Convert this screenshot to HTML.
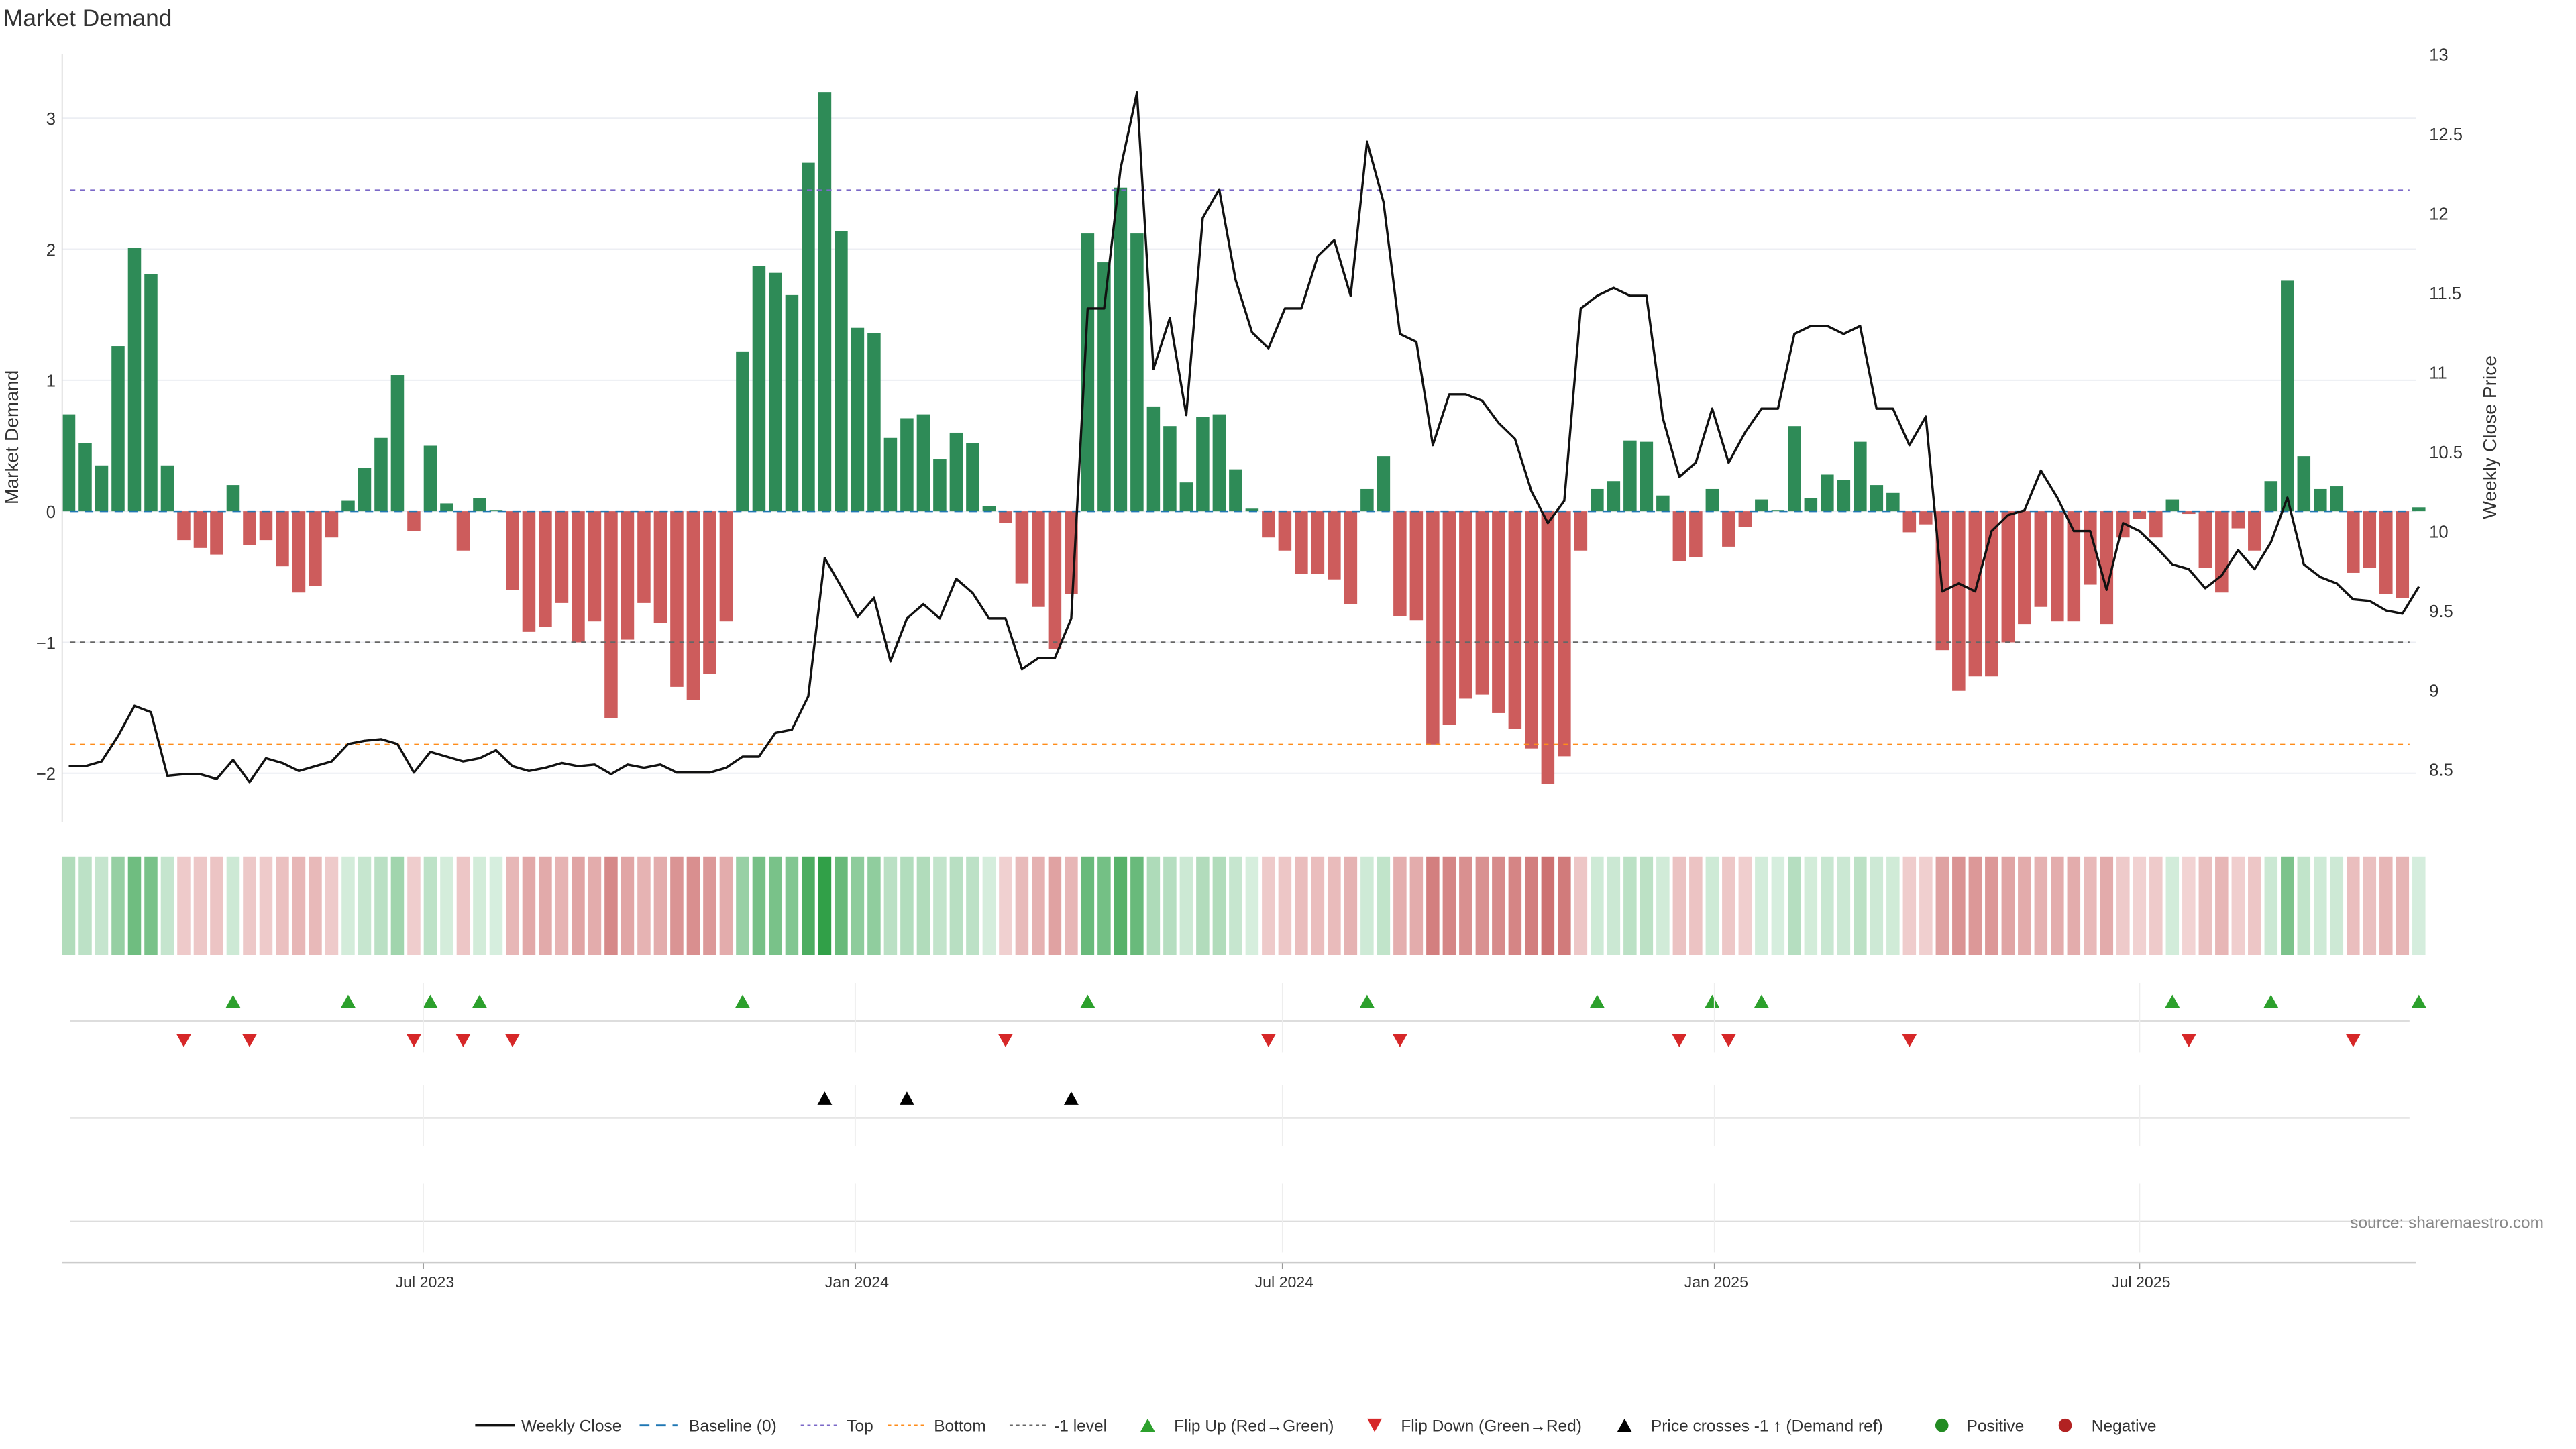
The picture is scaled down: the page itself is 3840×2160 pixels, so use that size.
<!DOCTYPE html>
<html><head><meta charset="utf-8">
<style>
html,body{margin:0;padding:0;background:#fff;}
svg{display:block;font-family:"Liberation Sans","DejaVu Sans",sans-serif;}
</style></head>
<body>
<svg id="chart" width="3840" height="2160" viewBox="0 0 1573.7 881.4" preserveAspectRatio="none" xmlns="http://www.w3.org/2000/svg">
<rect x="0" y="0" width="1573.7" height="881.4" fill="#fff"/>
<text x="2" y="16" font-size="14.5" fill="#333">Market Demand</text>
<g id="grid"></g>
<g id="bars"></g>
<g id="refs"></g>
<g id="line"></g>
<g id="axes"></g>
<g id="heat"></g>
<g id="flips"></g>
<g id="cross"></g>
<g id="lower"></g>
<text transform="translate(11,266) rotate(-90)" text-anchor="middle" font-size="11.5" fill="#333">Market Demand</text>
<text transform="translate(1525,266) rotate(-90)" text-anchor="middle" font-size="11.5" fill="#333">Weekly Close Price</text>
<text x="1554" y="747" text-anchor="end" font-size="10" fill="#888">source: sharemaestro.com</text>
<g id="legend" transform="translate(0,0) scale(1.0045,1)"></g>
</svg>
<script>
const demand = [0.74,0.52,0.35,1.26,2.01,1.81,0.35,-0.22,-0.28,-0.33,0.2,-0.26,-0.22,-0.42,-0.62,-0.57,-0.2,0.08,0.33,0.56,1.04,-0.15,0.5,0.06,-0.3,0.1,0.01,-0.6,-0.92,-0.88,-0.7,-1.0,-0.84,-1.58,-0.98,-0.7,-0.85,-1.34,-1.44,-1.24,-0.84,1.22,1.87,1.82,1.65,2.66,3.2,2.14,1.4,1.36,0.56,0.71,0.74,0.4,0.6,0.52,0.04,-0.09,-0.55,-0.73,-1.05,-0.63,2.12,1.9,2.47,2.12,0.8,0.65,0.22,0.72,0.74,0.32,0.02,-0.2,-0.3,-0.48,-0.48,-0.52,-0.71,0.17,0.42,-0.8,-0.83,-1.78,-1.63,-1.43,-1.4,-1.54,-1.66,-1.81,-2.08,-1.87,-0.3,0.17,0.23,0.54,0.53,0.12,-0.38,-0.35,0.17,-0.27,-0.12,0.09,0.01,0.65,0.1,0.28,0.24,0.53,0.2,0.14,-0.16,-0.1,-1.06,-1.37,-1.26,-1.26,-1.0,-0.86,-0.73,-0.84,-0.84,-0.56,-0.86,-0.2,-0.06,-0.2,0.09,-0.02,-0.43,-0.62,-0.13,-0.3,0.23,1.76,0.42,0.17,0.19,-0.47,-0.43,-0.63,-0.66,0.03];
const price = [8.52,8.52,8.55,8.71,8.90,8.86,8.46,8.47,8.47,8.44,8.56,8.42,8.57,8.54,8.49,8.52,8.55,8.66,8.68,8.69,8.66,8.48,8.61,8.58,8.55,8.57,8.62,8.52,8.49,8.51,8.54,8.52,8.53,8.47,8.53,8.51,8.53,8.48,8.48,8.48,8.51,8.58,8.58,8.73,8.75,8.96,9.83,9.65,9.46,9.58,9.18,9.45,9.54,9.45,9.70,9.61,9.45,9.45,9.13,9.20,9.20,9.45,11.40,11.40,12.28,12.76,11.02,11.34,10.73,11.97,12.15,11.58,11.25,11.15,11.40,11.40,11.73,11.83,11.48,12.45,12.07,11.24,11.19,10.54,10.86,10.86,10.82,10.68,10.58,10.25,10.05,10.19,11.40,11.48,11.53,11.48,11.48,10.71,10.34,10.43,10.77,10.43,10.62,10.77,10.77,11.24,11.29,11.29,11.24,11.29,10.77,10.77,10.54,10.72,9.62,9.67,9.62,10.00,10.10,10.13,10.38,10.21,10.00,10.00,9.63,10.05,10.00,9.90,9.79,9.76,9.64,9.72,9.88,9.76,9.93,10.21,9.79,9.71,9.67,9.57,9.56,9.50,9.48,9.65];
const demandTicks = [-2,-1,0,1,2,3];
const priceTicks = [8.5,9,9.5,10,10.5,11,11.5,12,12.5,13];
const refTop = 2.45, refBottom = -1.78, refMinus1 = -1;
const startDate = new Date(2023,0,31);
const dateTicks = [[new Date(2023,6,1),"Jul 2023"],[new Date(2024,0,1),"Jan 2024"],[new Date(2024,6,1),"Jul 2024"],[new Date(2025,0,1),"Jan 2025"],[new Date(2025,6,1),"Jul 2025"]];

const NS="http://www.w3.org/2000/svg";
function mk(parent,tag,attrs){const e=document.createElementNS(NS,tag);for(const k in attrs)e.setAttribute(k,attrs[k]);document.getElementById(parent).appendChild(e);return e;}
const X0=42, STEP=10.04, L=38, R=1476;
const xi = i => X0 + STEP*i;
const xd = d => X0 + (d - startDate)/(7*864e5)*STEP;
const yD = v => 311 - 79.7*v;
const yP = p => 33 + (13-p)*96.67;

demandTicks.forEach(t=>{
  const g=mk('grid','line',{x1:L,x2:R,y1:yD(t),y2:yD(t),stroke:'#eceef3','stroke-width':0.8});
  
  
  const tx=mk('axes','text',{x:34,y:yD(t)+4,'text-anchor':'end','font-size':10.5,fill:'#333'});
  tx.textContent = t<0 ? '\u2212'+Math.abs(t) : String(t);
  
  
});
priceTicks.forEach(t=>{
  const tx=mk('axes','text',{x:1484,y:yP(t)+4,'font-size':10.5,fill:'#333'});
  tx.textContent=String(t);
  
  
});
const sp=mk('axes','line',{x1:L,x2:L,y1:33,y2:500,stroke:'#ddd','stroke-width':0.8});



demand.forEach((v,i)=>{
  const y0=yD(0), y1=yD(v);
  const b=mk('bars','rect',{x:xi(i)-4,y:Math.min(y0,y1),width:8,height:Math.max(0.6,Math.abs(y1-y0)),fill:v>=0?'#2e8b57':'#cd5c5c'});
  
  
});
[[0,'#1f77b4','5,4','baseline-line'],[refTop,'#7b68c8','3,3','top-line'],[refMinus1,'#666','3,3','minus1-line'],[refBottom,'#ff8c1a','3,3','bottom-line']].forEach(r=>{
  const l=mk('refs','line',{x1:43,x2:1472,y1:yD(r[0]),y2:yD(r[0]),stroke:r[1],'stroke-width':1,'stroke-dasharray':r[2]});
  
  
});
const pl=mk('line','polyline',{points:price.map((p,i)=>xi(i)+','+yP(p)).join(' '),fill:'none',stroke:'#111','stroke-width':1.4,'stroke-linejoin':'round'});



function heatColor(v){
  if(v>=0){const t=Math.min(1,v/3.2);return `rgb(${Math.round(215-166*t)},${Math.round(238-78*t)},${Math.round(222-150*t)})`;}
  const t=Math.min(1,-v/2.1);return `rgb(${Math.round(242-37*t)},${Math.round(212-100*t)},${Math.round(212-100*t)})`;
}
demand.forEach((v,i)=>{
  const c=mk('heat','rect',{x:xi(i)-4,y:521,width:8,height:60,fill:heatColor(v)});
  
  
});

[621,680,743].forEach(y=>{
  const l=mk('lower','line',{x1:43,x2:1472,y1:y,y2:y,stroke:'#ddd','stroke-width':1});
  
  
});
dateTicks.forEach(d=>{
  const x=xd(d[0]);
  [[598,640],[660,697],[720,762]].forEach(s=>{
    const g=mk('lower','line',{x1:x,x2:x,y1:s[0],y2:s[1],stroke:'#eee','stroke-width':0.8});
    
    
  });
  const tk=mk('lower','line',{x1:x,x2:x,y1:768,y2:772,stroke:'#999','stroke-width':0.8});
  
  
  const t=mk('lower','text',{x:x+1,y:783,'text-anchor':'middle','font-size':9.5,fill:'#333'});
  t.textContent=d[1];
  
  
});
const xa=mk('lower','line',{x1:L,x2:R,y1:768,y2:768,stroke:'#ccc','stroke-width':1});



for(let i=1;i<demand.length;i++){
  const x=xi(i);
  if(demand[i-1]<0 && demand[i]>=0){
    const t=mk('flips','path',{d:`M${x-4.5},${613} L${x+4.5},${613} L${x},${605} Z`,fill:'#2ca02c'});
    
    
  } else if(demand[i-1]>=0 && demand[i]<0){
    const t=mk('flips','path',{d:`M${x-4.5},${629} L${x+4.5},${629} L${x},${637} Z`,fill:'#d62728'});
    
    
  }
}
const crossPrice = 13 - (yD(refMinus1)-33)/96.67;
for(let i=1;i<price.length;i++){
  if(price[i-1]<crossPrice && price[i]>=crossPrice){
    const x=xi(i);
    const t=mk('cross','path',{d:`M${x-4.5},${672} L${x+4.5},${672} L${x},${664} Z`,fill:'#000'});
    
    
  }
}

const LY=867;
function ltext(x,s){const t=mk('legend','text',{x:x,y:LY+3.5,'font-size':10,fill:'#333'});t.textContent=s;}
let e;
e=mk('legend','line',{x1:289,x2:313,y1:LY,y2:LY,stroke:'#111','stroke-width':1.4});ltext(317,'Weekly Close');
e=mk('legend','line',{x1:389,x2:412,y1:LY,y2:LY,stroke:'#1f77b4','stroke-width':1.2,'stroke-dasharray':'6,4'});ltext(419,'Baseline (0)');
e=mk('legend','line',{x1:487,x2:509,y1:LY,y2:LY,stroke:'#7b68c8','stroke-width':1,'stroke-dasharray':'2,2'});ltext(515,'Top');
e=mk('legend','line',{x1:540,x2:562,y1:LY,y2:LY,stroke:'#ff8c1a','stroke-width':1,'stroke-dasharray':'2,2'});ltext(568,'Bottom');
e=mk('legend','line',{x1:614,x2:636,y1:LY,y2:LY,stroke:'#666','stroke-width':1,'stroke-dasharray':'2,2'});ltext(641,'-1 level');
e=mk('legend','path',{d:`M693.5,${LY+4} L702.5,${LY+4} L698,${LY-4} Z`,fill:'#2ca02c'});ltext(714,'Flip Up (Red\u2192Green)');
e=mk('legend','path',{d:`M831.5,${LY-4} L840.5,${LY-4} L836,${LY+4} Z`,fill:'#d62728'});ltext(852,'Flip Down (Green\u2192Red)');
e=mk('legend','path',{d:`M983.5,${LY+4} L992.5,${LY+4} L988,${LY-4} Z`,fill:'#000'});ltext(1004,'Price crosses -1 \u2191 (Demand ref)');
e=mk('legend','circle',{cx:1181,cy:LY,r:4,fill:'#228b22'});ltext(1196,'Positive');
e=mk('legend','circle',{cx:1256,cy:LY,r:4,fill:'#b22222'});ltext(1272,'Negative');
</script>
</body></html>
